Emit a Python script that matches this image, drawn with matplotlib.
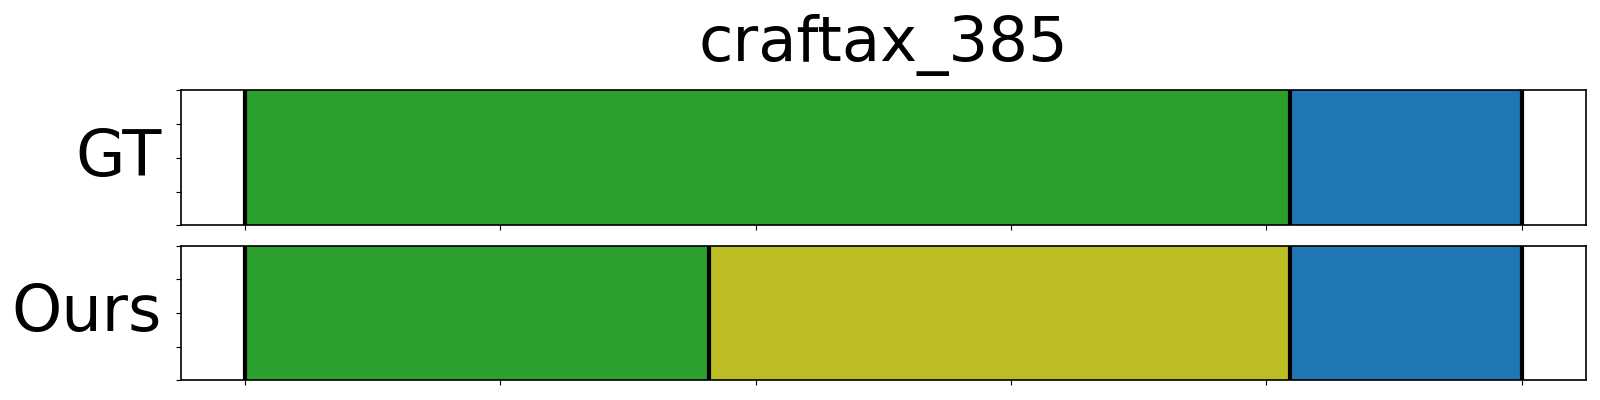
import numpy as np
import matplotlib
matplotlib.use("Agg")
import matplotlib.pyplot as plt

title = "craftax_385"
n_steps = 11

# segment boundaries (in steps) and segment colours
gt_bounds = [0, 9, 11]
gt_colors = ["#2ca02c", "#1f77b4"]

ours_bounds = [0, 4, 9, 11]
ours_colors = ["#2ca02c", "#bcbd22", "#1f77b4"]

rows = [("GT", gt_bounds, gt_colors), ("Ours", ours_bounds, ours_colors)]

fig = plt.figure(figsize=(16, 4), dpi=100)
axes = [fig.add_axes([0.1133, 0.437, 0.8777, 0.337]),
        fig.add_axes([0.1133, 0.049, 0.8777, 0.337])]

for ax, (name, bounds, colors) in zip(axes, rows):
    b = np.array(bounds) / n_steps
    for i, c in enumerate(colors):
        ax.axvspan(b[i], b[i + 1], color=c, lw=0)
    for x in b:
        ax.axvline(x, color="black", lw=3)
    ax.set_xlim(-0.05, 1.05)
    ax.set_ylim(0, 1)
    ax.set_xticks(np.linspace(0, 1, 6))
    ax.set_yticks(np.linspace(0, 1, 5))
    ax.set_xticklabels([])
    ax.set_yticklabels([])
    ax.set_ylabel(name, rotation=0, ha="right", va="center", fontsize=46, labelpad=7)
    for s in ax.spines.values():
        s.set_linewidth(1.2)

axes[0].set_title(title, fontsize=45, pad=21)

fig.savefig("out.png", dpi=100, facecolor="w")
